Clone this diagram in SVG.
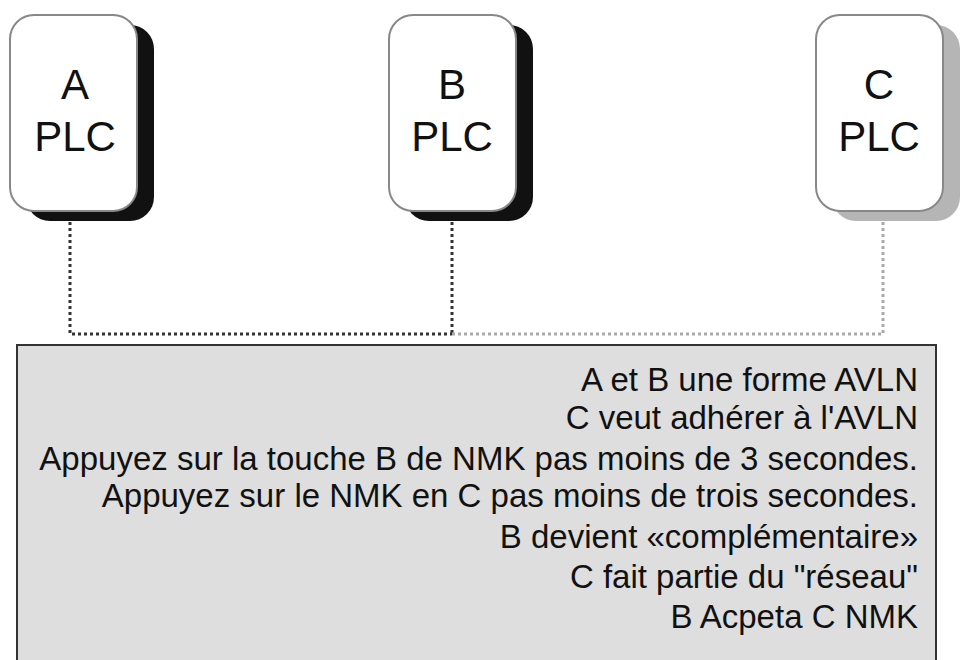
<svg xmlns="http://www.w3.org/2000/svg" width="970" height="660" viewBox="0 0 970 660">
<style>
.t{font-family:"Liberation Sans",Arial,sans-serif;fill:#111}
.n{font-size:42px;text-anchor:middle}
.m{font-size:26.5px;text-anchor:end;transform-box:fill-box}
.box{fill:#fff;stroke:#888;stroke-width:2}
</style>
<rect width="970" height="660" fill="#fff"/>
<g id="connectors" fill="none" stroke-width="3" stroke-dasharray="3 3">
<path d="M70 222V334H452" stroke="#333"/>
<path d="M452 222V334" stroke="#333"/>
<path d="M452 334H883V222" stroke="#aaa"/>
</g>
<g id="A">
<rect x="26" y="25" width="128" height="196" rx="24" fill="#111"/>
<rect class="box" x="10" y="15" width="127" height="196" rx="24"/>
<text class="t n" x="75" y="99">A</text>
<text class="t n" x="75" y="151">PLC</text>
</g>
<g id="B">
<rect x="405" y="25" width="128" height="196" rx="24" fill="#111"/>
<rect class="box" x="389" y="15" width="127" height="196" rx="24"/>
<text class="t n" x="452" y="99">B</text>
<text class="t n" x="452" y="151">PLC</text>
</g>
<g id="C">
<rect x="832" y="25" width="128" height="196" rx="24" fill="#b5b5b5"/>
<rect class="box" x="816" y="15" width="127" height="196" rx="24" stroke="#ccc"/>
<text class="t n" x="879" y="99">C</text>
<text class="t n" x="879" y="151">PLC</text>
</g>
<g id="note" font-size="33">
<rect x="17" y="345" width="919" height="330" fill="#dedede" stroke="#333" stroke-width="2"/>
<text class="t" text-anchor="end" x="918" y="391">A et B une forme AVLN</text>
<text class="t" text-anchor="end" x="918" y="429">C veut adhérer à l'AVLN</text>
<text class="t" text-anchor="end" x="918" y="470">Appuyez sur la touche B de NMK pas moins de 3 secondes.</text>
<text class="t" text-anchor="end" x="918" y="507">Appuyez sur le NMK en C pas moins de trois secondes.</text>
<text class="t" text-anchor="end" x="918" y="548">B devient «complémentaire»</text>
<text class="t" text-anchor="end" x="918" y="588">C fait partie du "réseau"</text>
<text class="t" text-anchor="end" x="918" y="628">B Acpeta C NMK</text>
</g>
</svg>
